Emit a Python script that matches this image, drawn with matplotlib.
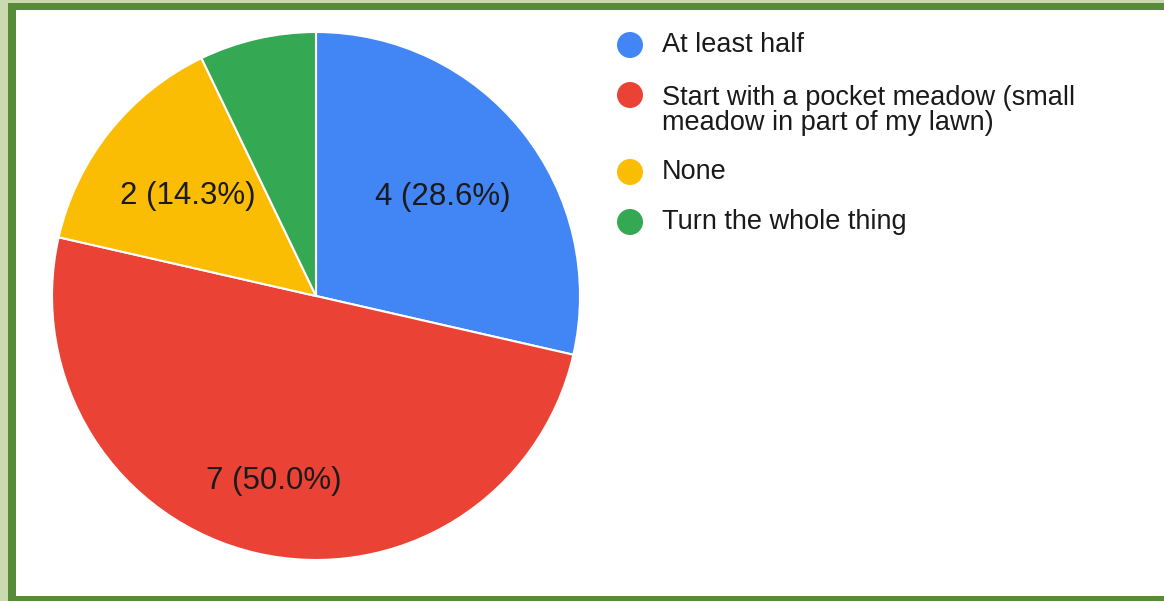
import matplotlib as mpl
mpl.use('Agg')
import matplotlib.pyplot as plt
from matplotlib.patches import Rectangle, Circle
import numpy as np

# survey answers
labels = ["At least half",
          "Start with a pocket meadow (small\nmeadow in part of my lawn)",
          "None",
          "Turn the whole thing"]
counts = [4, 7, 2, 1]
colors = ["#4285f4", "#ea4335", "#fbbc04", "#34a853"]
label_dist = [0.615, 0.71, 0.62, 0.62]   # radial position of slice labels
show_label = [True, True, True, False]

W, H = 1164, 601
fig = plt.figure(figsize=(W/100., H/100.), dpi=100)
fig.patch.set_facecolor("#cad9af")
ax = fig.add_axes([0, 0, 1, 1])
ax.set_xlim(0, W)
ax.set_ylim(0, H)
ax.set_aspect('equal')
ax.axis('off')

# card with green frame
ax.add_patch(Rectangle((8, 0), W, H-3, facecolor="#578a39", edgecolor="none", zorder=0))
ax.add_patch(Rectangle((16, 5), W, H-15, facecolor="white", edgecolor="none", zorder=1))

cx, cy, R = 316, H-296, 264
total = float(sum(counts))
wedges, _ = ax.pie(counts, colors=colors, startangle=90, counterclock=False,
                   center=(cx, cy), radius=R, frame=True,
                   wedgeprops=dict(edgecolor="white", linewidth=1.5, zorder=2))
ax.set_xlim(0, W)
ax.set_ylim(0, H)
ax.axis('off')

for w, n, d, s in zip(wedges, counts, label_dist, show_label):
    if not s:
        continue
    mid = np.deg2rad((w.theta1 + w.theta2)/2.)
    ax.text(cx + d*R*np.cos(mid), cy + d*R*np.sin(mid) - 2,
            "%d (%.1f%%)" % (n, 100*n/total), ha='center', va='center',
            fontsize=22.5, family="Liberation Sans", color="#1a1a1a", zorder=3)

# legend
leg_y = [45, 95, 172, 222]
for lab, c, y in zip(labels, colors, leg_y):
    ax.add_patch(Circle((630, H-y), 13, facecolor=c, edgecolor="none", zorder=3))
    if "\n" in lab:
        ax.text(662, H-y+10, lab, ha='left', va='top', fontsize=19.5,
                family="Liberation Sans", color="#1a1a1a", linespacing=0.95, zorder=3)
    else:
        ax.text(662, H-y, lab, ha='left', va='center', fontsize=19.5,
                family="Liberation Sans", color="#1a1a1a", zorder=3)

fig.savefig("out.png", dpi=100)
